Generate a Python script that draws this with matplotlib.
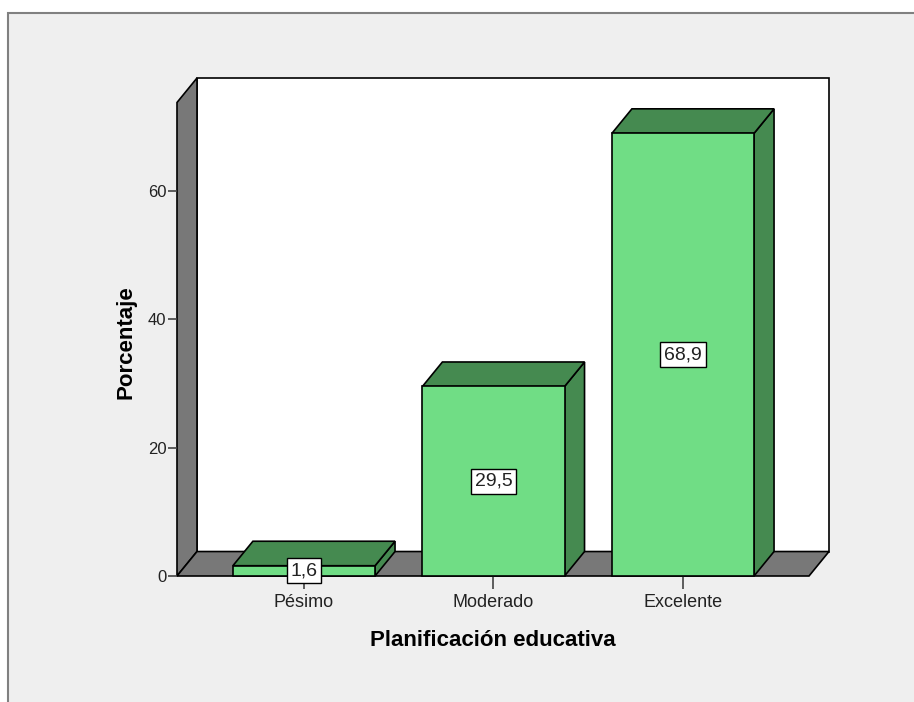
import matplotlib.pyplot as plt
from matplotlib.patches import Polygon, Rectangle

plt.rcParams['font.family'] = ['Liberation Sans', 'DejaVu Sans']

# --- Dati ---
categorie = ['Pésimo', 'Moderado', 'Excelente']
percentuali = [1.6, 29.5, 68.9]
yticks = [0, 20, 40, 60]

# --- Geometria della scatola 3D (unità dei dati) ---
x_sx, x_dx = -0.67, 2.665   # bordo anteriore del pavimento
y_top = 73.7                # altezza della parete anteriore
prof_x, prof_y = 0.1055, 3.81  # profondità (spostamento verso il fondo)
larg = 0.75                 # larghezza barre

verde = '#70dd85'
verde_scuro = '#458a50'
grigio = '#787878'
sfondo = '#efefef'

W, H = 914, 702
fig = plt.figure(figsize=(W / 100, H / 100), dpi=100)
fig.patch.set_facecolor('white')

# cornice esterna grigio chiaro (sotto gli assi)
fig.patches.append(Rectangle((8 / W, -0.1), 1.2, 1 - 13 / H + 0.1,
                             transform=fig.transFigure, facecolor=sfondo,
                             edgecolor='#808080', lw=1.5, zorder=-5))

ax = fig.add_axes([177 / W, 1 - 576 / H, (829 - 177) / W, (576 - 78) / H])
ax.set_facecolor('none')
ax.set_xlim(x_sx, x_dx + prof_x)
ax.set_ylim(0, y_top + prof_y)
for s in ax.spines.values():
    s.set_visible(False)

kw = dict(edgecolor='black', lw=1.2, joinstyle='miter', clip_on=False)

# parete di fondo
ax.add_patch(Polygon([(x_sx + prof_x, prof_y), (x_dx + prof_x, prof_y),
                      (x_dx + prof_x, y_top + prof_y), (x_sx + prof_x, y_top + prof_y)],
                     facecolor='white', **kw))
# parete sinistra
ax.add_patch(Polygon([(x_sx, 0), (x_sx, y_top), (x_sx + prof_x, y_top + prof_y),
                      (x_sx + prof_x, prof_y)], facecolor=grigio, **kw))
# pavimento
ax.add_patch(Polygon([(x_sx, 0), (x_dx, 0), (x_dx + prof_x, prof_y),
                      (x_sx + prof_x, prof_y)], facecolor=grigio, **kw))

# barre 3D
for i, v in enumerate(percentuali):
    a, b = i - larg / 2, i + larg / 2
    ax.add_patch(Polygon([(b, 0), (b, v), (b + prof_x, v + prof_y), (b + prof_x, prof_y)],
                         facecolor=verde_scuro, zorder=3, **kw))
    ax.add_patch(Polygon([(a, v), (b, v), (b + prof_x, v + prof_y), (a + prof_x, v + prof_y)],
                         facecolor=verde_scuro, zorder=3, **kw))
    ax.add_patch(Polygon([(a, 0), (b, 0), (b, v), (a, v)],
                         facecolor=verde, zorder=3, **kw))
    ax.text(i, v / 2, f'{v:.1f}'.replace('.', ','), ha='center', va='center',
            fontsize=14, color='#222222', zorder=6,
            bbox=dict(boxstyle='square,pad=0.2', facecolor='white',
                      edgecolor='black', lw=1))

ax.set_xticks(range(len(categorie)))
ax.set_xticklabels(categorie, fontsize=13, color='#222222')
ax.set_yticks(yticks)
ax.set_yticklabels([str(t) for t in yticks], fontsize=12, color='#222222')
ax.tick_params(axis='x', length=9, width=1.2, color='#444444', pad=4)
ax.tick_params(axis='y', length=6.5, width=1.2, color='#444444', pad=1)

ax.set_xlabel('Planificación educativa', fontsize=16, fontweight='bold')
ax.set_ylabel('Porcentaje', fontsize=16, fontweight='bold')
ax.xaxis.set_label_coords(0.485, -0.108)
ax.yaxis.set_label_coords(-0.062, 0.47)

fig.savefig('out.png', dpi=100)
